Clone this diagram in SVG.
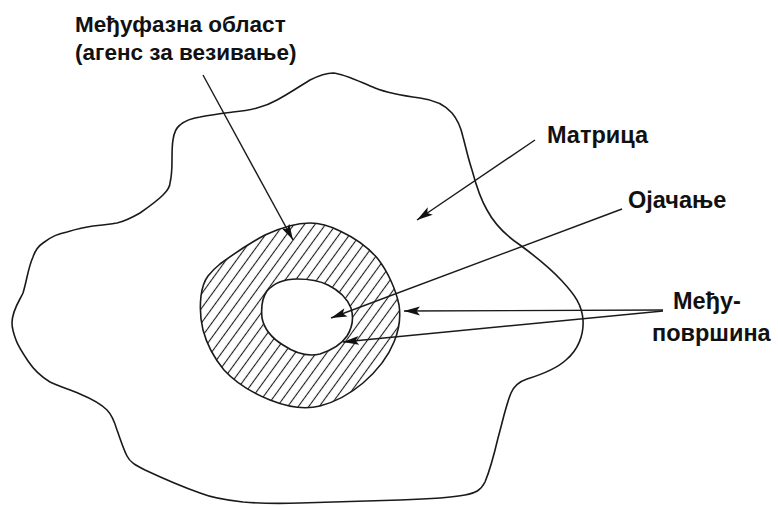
<svg xmlns="http://www.w3.org/2000/svg" width="778" height="506" viewBox="0 0 778 506">
<style>
.outline{fill:none;stroke:#1a1a1a;stroke-width:1.6;stroke-linejoin:round}
.ring{fill:url(#hatch);fill-rule:evenodd;stroke:#1a1a1a;stroke-width:1.6;stroke-linejoin:round}
.conn{fill:none;stroke:#1a1a1a;stroke-width:1.4;marker-end:url(#arr)}
.lbl{font-family:"Liberation Sans",Arial,sans-serif;font-weight:bold;font-size:23.5px;fill:#111}
.lbl2{font-size:22.5px}
</style>
<defs>
<marker id="arr" markerUnits="userSpaceOnUse" markerWidth="18" markerHeight="12" viewBox="0 -6 18 12" refX="16" refY="0" orient="auto">
<path d="M0,-4.5 L16,0 L0,4.5 L3.5,0 Z" fill="#111"/>
</marker>
<pattern id="hatch" patternUnits="userSpaceOnUse" width="8.5" height="10" patternTransform="rotate(36)">
<line x1="4.25" y1="-1" x2="4.25" y2="11" stroke="#1a1a1a" stroke-width="1.1"/>
</pattern>
</defs>
<rect width="778" height="506" fill="#fff"/>
<g id="matrix">
<path class="outline" d="M12,323 C12,310 20,300 23,293 C27,280 28,268 33,257 C36,248 40,245 43,243 C52,236 58,234 67,232 C80,228 85,227 93,226 C105,225 110,224 117,223 C126,221 133,217 140,213 C150,206 158,200 163,195 C168,190 170,186 170,183 C172,175 172,168 172,160 C172,150 172,145 173,140 C174,132 176,128 180,125 C186,120 193,118 200,117 C215,114 225,113 233,112 C245,111 250,110 257,108 C265,106 270,104 277,100 C290,93 300,86 310,80 C318,76 325,73 333,73 C345,74 360,82 375,88 C390,94 405,96 420,98 C435,100 445,105 452,113 C458,120 461,128 463,137 C466,148 468,158 472,170 C476,185 480,198 487,210 C495,225 505,235 520,245 C535,256 550,268 562,281 C575,295 582,305 583,320 C584,335 578,350 566,360 C555,370 540,375 527,379 C518,382 514,386 511,393 C506,405 503,420 498,438 C494,455 490,470 485,482 C481,490 476,493 465,495 C450,498 430,499 400,500 C370,501 330,502 300,503 C270,504 255,503 243,502 C225,500 210,497 200,493 C180,486 160,477 145,470 C135,465 130,462 127,456 C123,448 120,438 117,430 C114,420 111,414 107,410 C100,403 92,399 80,394 C68,389 58,386 50,382 C40,376 34,370 28,361 C22,352 18,346 16,340 C13,332 12,328 12,323 Z"/>
</g>
<g id="interphase">
<path class="ring" d="M310,223 C320,223 328,225 340,231 C355,238 368,247 378,259 C388,272 396,290 399,305 C401,318 399,330 394,342 C388,357 378,370 363,383 C350,394 335,402 320,406 C308,409 290,408 270,400 C250,392 235,382 224,370 C214,358 207,345 203,330 C200,318 200,305 201,296 C202,288 205,280 208,276 C212,271 215,268 220,264 C235,253 250,243 265,235 C280,228 295,223 310,223 Z M297,279 C308,279 318,280 328,285 C340,291 347,298 351,308 C354,318 352,328 347,336 C341,345 332,350 320,354 C308,357 295,353 283,345 C270,337 264,328 262,318 C261,308 262,298 267,291 C274,283 285,279 297,279 Z"/>
</g>
<g id="labels">
<text class="lbl lbl2" x="75" y="32">Међуфазна област</text>
<text class="lbl lbl2" x="75" y="60">(агенс за везивање)</text>
<text class="lbl" x="547" y="143">Матрица</text>
<text class="lbl" x="628" y="208">Ојачање</text>
<text class="lbl" x="673" y="309">Међу-</text>
<text class="lbl" x="652" y="341">површина</text>
</g>
<g id="connectors">
<line class="conn" x1="203" y1="75" x2="293" y2="240"/>
<line class="conn" x1="535" y1="140" x2="417" y2="220"/>
<line class="conn" x1="622" y1="209" x2="331" y2="318"/>
<line class="conn" x1="663" y1="310" x2="404" y2="311"/>
<line class="conn" x1="663" y1="311" x2="343" y2="342"/>
</g>
</svg>
